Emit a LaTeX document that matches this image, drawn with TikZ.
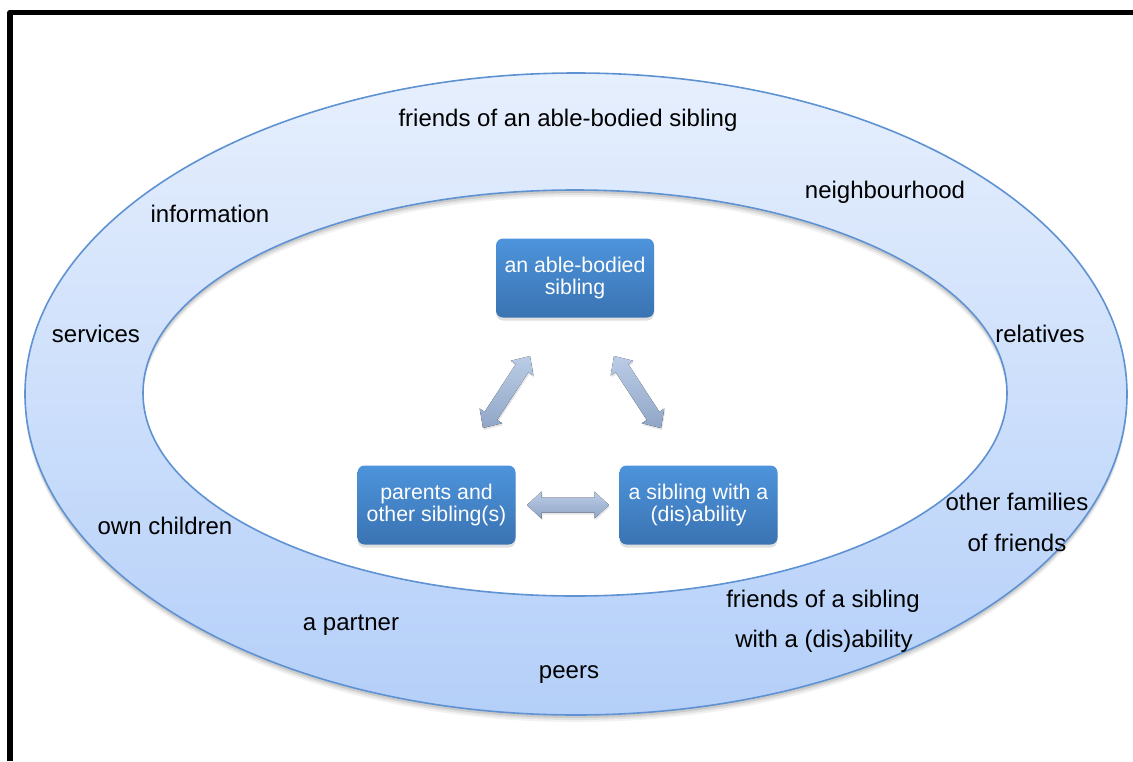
\documentclass[tikz,border=0pt]{standalone}
\usepackage{fontspec}
\setmainfont{Liberation Sans}
\usetikzlibrary{calc,shadows}
\definecolor{ringtop}{HTML}{E6EFFD}
\definecolor{ringbot}{HTML}{B4CFF9}
\definecolor{ringline}{HTML}{5E92D2}
\definecolor{boxtop}{HTML}{4D94DC}
\definecolor{boxbot}{HTML}{3A73B2}
\definecolor{arrtop}{HTML}{BACCE6}
\definecolor{arrbot}{HTML}{91A6C7}
\newcommand\hl{14.5pt}
\newcommand\hw{13.5pt}
\newcommand\sw{7.5pt}
\newcommand\blockarrow[2]{%
 \fill[arrowfill] (#1)
  -- ($(#1)!\hl!(#2)!\hw!90:(#2)$)
  -- ($(#1)!\hl!(#2)!\sw!90:(#2)$)
  -- ($(#2)!\hl!(#1)!\sw!-90:(#1)$)
  -- ($(#2)!\hl!(#1)!\hw!-90:(#1)$)
  -- (#2)
  -- ($(#2)!\hl!(#1)!\hw!90:(#1)$)
  -- ($(#2)!\hl!(#1)!\sw!90:(#1)$)
  -- ($(#1)!\hl!(#2)!\sw!-90:(#2)$)
  -- ($(#1)!\hl!(#2)!\hw!-90:(#2)$)
  -- cycle;}
\tikzset{
  box/.style={rectangle, rounded corners=7pt, minimum width=158pt, minimum height=79pt,
    top color=boxtop, bottom color=boxbot, draw=none, text=white, align=center,
    font=\fontsize{21.3}{21.5}\selectfont,
    drop shadow={shadow xshift=0pt, shadow yshift=-3pt, opacity=.25}},
  lbl/.style={font=\fontsize{24}{28}\selectfont, anchor=base, inner sep=0pt},
  arrowfill/.style={top color=arrtop, bottom color=arrbot,
    drop shadow={shadow xshift=1pt, shadow yshift=-2pt, opacity=.2}},
}
\begin{document}
\begin{tikzpicture}[x=1pt,y=-1pt]
\useasboundingbox (0,0) rectangle (1133,761);
% frame lines
\draw[line width=5.5pt, line join=round] (10,761) -- (10,12.5) -- (1133,12.5);
% ring shadow
\foreach \s/\o in {7/0.05, 5/0.07, 3/0.1} {
  \fill[black, opacity=\o, even odd rule]
    (576,394+\s) ellipse [x radius=551pt, y radius=321pt]
    (575,393+\s) ellipse [x radius=432pt, y radius=203pt];
}
% ring
\path[top color=ringtop, bottom color=ringbot, even odd rule]
  (576,394) ellipse [x radius=551pt, y radius=321pt]
  (575,393) ellipse [x radius=432pt, y radius=203pt];
\draw[ringline, line width=1.6pt] (576,394) ellipse [x radius=551pt, y radius=321pt];
\draw[ringline, line width=1.6pt] (575,393) ellipse [x radius=432pt, y radius=203pt];
% boxes
\node[box] (able) at (575,278) {an able-bodied\\sibling};
\node[box] (parents) at (436.5,505) {parents and\\other sibling(s)};
\node[box] (dis) at (698.5,505) {a sibling with a\\(dis)ability};
% arrows
\coordinate (a1) at (530,356);
\coordinate (a2) at (483,428);
\coordinate (b1) at (614,356);
\coordinate (b2) at (661,428);
\coordinate (c1) at (527,505);
\coordinate (c2) at (609,505);
\blockarrow{a1}{a2}
\blockarrow{b1}{b2}
\blockarrow{c1}{c2}
% labels
\node[lbl] (fab) at (568,126) {friends of an able-bodied sibling};
\node[lbl] (info) at (210,222) {information};
\node[lbl] (neigh) at (885,198) {neighbourhood};
\node[lbl] (serv) at (96,342) {services};
\node[lbl] (rel) at (1040,342) {relatives};
\node[lbl] (own) at (165,534) {own children};
\node[lbl] (ofa) at (1017,510) {other families};
\node[lbl] (ofb) at (1017,551) {of friends};
\node[lbl] (fsa) at (823,607) {friends of a sibling};
\node[lbl] (fsb) at (824,647) {with a (dis)ability};
\node[lbl] (part) at (351,630) {a partner};
\node[lbl] (peers) at (569,678) {peers};
\end{tikzpicture}
\end{document}
